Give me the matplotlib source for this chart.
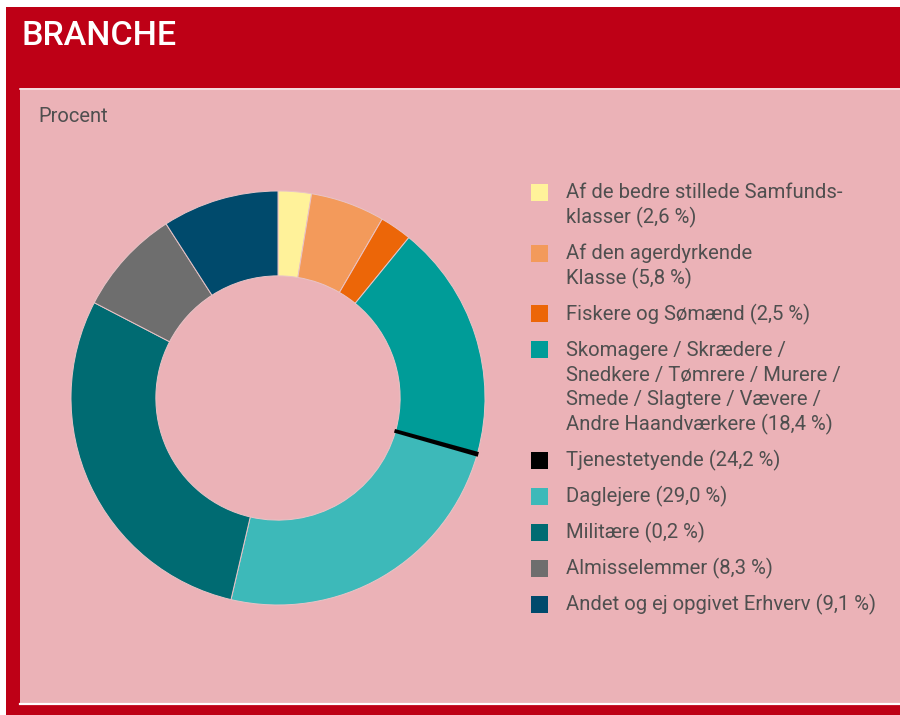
import matplotlib
matplotlib.use('Agg')
import matplotlib.pyplot as plt
from matplotlib.patches import Rectangle

plt.rcParams['font.family'] = ['Roboto', 'DejaVu Sans']

# data as drawn in the ring (clockwise from 12 o'clock)
slice_values = [2.6, 5.8, 2.5, 18.4, 0.2, 24.2, 29.0, 8.3, 9.1]
slice_colors = ['#FFF29A', '#F39A5B', '#EC6608', '#009C98', '#000000',
                '#3DB9B9', '#006B72', '#6E6E6E', '#004A6C']

# legend text exactly as printed
legend_labels = [
    'Af de bedre stillede Samfunds-\nklasser (2,6 %)',
    'Af den agerdyrkende\nKlasse (5,8 %)',
    'Fiskere og Sømænd (2,5 %)',
    'Skomagere / Skrædere /\nSnedkere / Tømrere / Murere /\nSmede / Slagtere / Vævere /\nAndre Haandværkere (18,4 %)',
    'Tjenestetyende (24,2 %)',
    'Daglejere (29,0 %)',
    'Militære (0,2 %)',
    'Almisselemmer (8,3 %)',
    'Andet og ej opgivet Erhverv (9,1 %)',
]

W, H = 900, 715
red = '#BE0016'
pink = '#EBB2B7'
text_col = '#4F4F4F'

fig = plt.figure(figsize=(W / 100, H / 100), dpi=100)
fig.patch.set_facecolor('white')

# background layer in pixel coordinates
bg = fig.add_axes([0, 0, 1, 1])
bg.set_xlim(0, W)
bg.set_ylim(H, 0)
bg.axis('off')
bg.add_patch(Rectangle((6, 7), W - 6, H - 7, facecolor=red, edgecolor='none'))
bg.add_patch(Rectangle((20, 88), W - 20, 617, facecolor=pink, edgecolor='none'))
bg.plot([20, W], [88.5, 88.5], color='#F6E3E5', lw=1.2)
bg.plot([20, W], [703.5, 703.5], color='white', lw=1.6)

bg.text(21, 36, 'BRANCHE', color='white', fontsize=24.5, fontweight='medium',
        va='center', ha='left')
bg.text(38, 116, 'Procent', color=text_col, fontsize=14.5, va='center', ha='left')

# donut
cx, cy, r = 278, 398, 207
pie_ax = fig.add_axes([(cx - r) / W, (H - cy - r) / H, 2 * r / W, 2 * r / H])
wedges, _ = pie_ax.pie(slice_values, colors=slice_colors, startangle=90, counterclock=False,
                       radius=1.0, wedgeprops=dict(width=0.41, edgecolor='#E9C4C7', linewidth=0.7))
wedges[4].set_edgecolor('#000000')
wedges[4].set_linewidth(1.6)
wedges[4].set_zorder(3)
pie_ax.set_xlim(-1, 1)
pie_ax.set_ylim(-1, 1)
pie_ax.set_aspect('equal')
pie_ax.axis('off')

# legend
line_h = 24.7
step = 36.0
y = 193
for lab, col in zip(legend_labels, slice_colors):
    lines = lab.split('\n')
    bg.add_patch(Rectangle((531, y - 9), 17, 17, facecolor=col, edgecolor='none'))
    for i, ln in enumerate(lines):
        bg.text(566, y + i * line_h, ln, color=text_col, fontsize=14.6,
                va='center', ha='left')
    y += (len(lines) - 1) * line_h + step

fig.savefig('out.png', dpi=100, facecolor=fig.get_facecolor())
